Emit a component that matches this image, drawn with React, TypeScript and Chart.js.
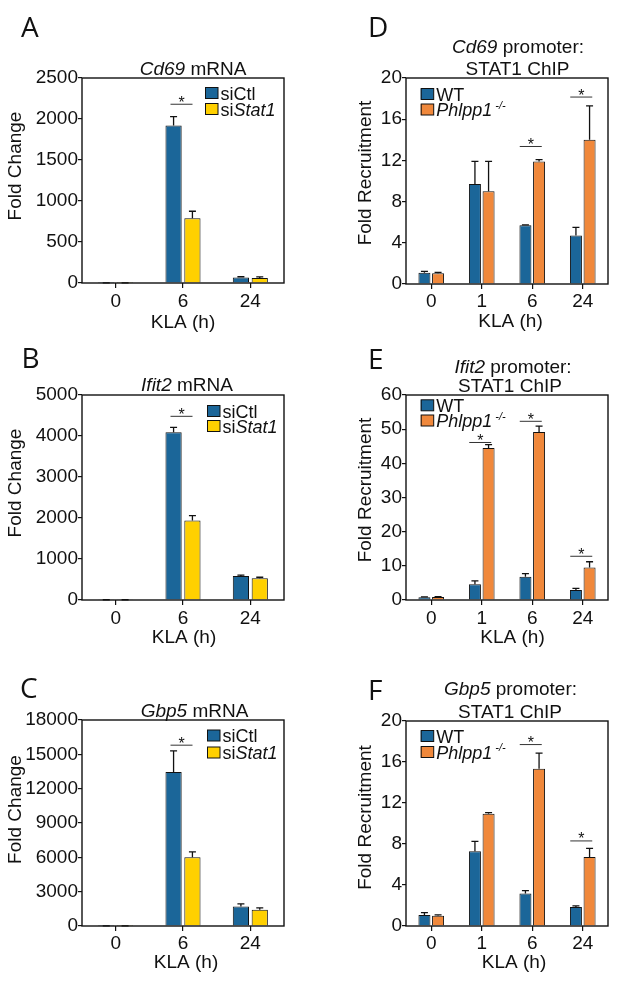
import React, { useEffect, useRef } from 'react';
import { Chart, registerables } from 'chart.js';

Chart.register(...registerables);

const FONT = '"Liberation Sans", Arial, Helvetica, sans-serif';
const LETTER_FONT = '"Open Sans", "Noto Sans", sans-serif';
const BLUE = '#1b6699';
const YELLOW = '#ffd000';
const ORANGE = '#f0883b';
const INK = '#111111';

// ---------- data ----------
const mrnaTimes = ['0', '6', '24'];
const chipTimes = ['0', '1', '6', '24'];

// A: Cd69 mRNA
const cd69MrnaSiCtl = [1, 1920, 68];
const cd69MrnaSiCtlErr = [1, 110, 8];
const cd69MrnaSiStat1 = [1, 790, 62];
const cd69MrnaSiStat1Err = [1, 85, 12];
const cd69MrnaSigIdx = [1];
const cd69MrnaSigY = [2180];

// B: Ifit2 mRNA
const ifit2MrnaSiCtl = [4, 4090, 585];
const ifit2MrnaSiCtlErr = [2, 120, 20];
const ifit2MrnaSiStat1 = [4, 1940, 530];
const ifit2MrnaSiStat1Err = [2, 120, 25];
const ifit2MrnaSigIdx = [1];
const ifit2MrnaSigY = [4480];

// C: Gbp5 mRNA
const gbp5MrnaSiCtl = [8, 13450, 1700];
const gbp5MrnaSiCtlErr = [5, 1850, 230];
const gbp5MrnaSiStat1 = [8, 6000, 1410];
const gbp5MrnaSiStat1Err = [5, 470, 170];
const gbp5MrnaSigIdx = [1];
const gbp5MrnaSigY = [15800];

// D: Cd69 promoter STAT1 ChIP
const cd69ChipWT = [1.1, 9.7, 5.7, 4.7];
const cd69ChipWTErr = [0.12, 2.2, 0.05, 0.8];
const cd69ChipKO = [1.05, 9.0, 11.9, 14.0];
const cd69ChipKOErr = [0.08, 2.9, 0.18, 3.3];
const cd69ChipSigIdx = [2, 3];
const cd69ChipSigY = [13.35, 18.15];

// E: Ifit2 promoter STAT1 ChIP
const ifit2ChipWT = [0.8, 4.6, 6.8, 2.9];
const ifit2ChipWTErr = [0.1, 1.0, 0.9, 0.5];
const ifit2ChipKO = [0.9, 44.5, 49.2, 9.5];
const ifit2ChipKOErr = [0.1, 1.0, 1.7, 1.7];
const ifit2ChipSigIdx = [1, 2, 3];
const ifit2ChipSigY = [46.1, 52.3, 12.8];

// F: Gbp5 promoter STAT1 ChIP
const gbp5ChipWT = [1.08, 7.3, 3.16, 1.86];
const gbp5ChipWTErr = [0.22, 0.95, 0.3, 0.1];
const gbp5ChipKO = [1.0, 10.96, 15.33, 6.72];
const gbp5ChipKOErr = [0.08, 0.1, 1.54, 0.85];
const gbp5ChipSigIdx = [2, 3];
const gbp5ChipSigY = [17.7, 8.3];

// ---------- text helpers ----------
type Part = { t: string; i?: boolean; sup?: boolean };

const siCtlLabel: Part[] = [{ t: 'siCtl' }];
const siStat1Label: Part[] = [{ t: 'si' }, { t: 'Stat1', i: true }];
const wtLabel: Part[] = [{ t: 'WT' }];
const koLabel: Part[] = [{ t: 'Phlpp1', i: true }, { t: ' -/-', i: true, sup: true }];

function fontFor(p: Part, size: number) {
  const s = p.sup ? Math.round(size * 0.6) : size;
  return `${p.i ? 'italic ' : ''}${s}px ${FONT}`;
}

function drawParts(ctx: CanvasRenderingContext2D, parts: Part[], x: number, y: number, size: number, align: 'left' | 'center') {
  let total = 0;
  for (const p of parts) {
    ctx.font = fontFor(p, size);
    total += ctx.measureText(p.t).width;
  }
  let cx = align === 'center' ? x - total / 2 : x;
  ctx.textAlign = 'left';
  ctx.textBaseline = 'alphabetic';
  for (const p of parts) {
    ctx.font = fontFor(p, size);
    ctx.fillText(p.t, cx, p.sup ? y - size * 0.4 : y);
    cx += ctx.measureText(p.t).width;
  }
}

// ---------- panel specs ----------
type Series = { name: string; legend: Part[]; values: number[]; err: number[]; color: string };
type Spec = {
  letter: string; letterX: number; letterY: number;
  canvas: { left: number; top: number; width: number; height: number };
  area: { left: number; right: number; top: number; bottom: number };
  labels: string[]; yMax: number; yStep: number;
  series: Series[];
  sigIdx: number[]; sigY: number[];
  titles: { parts: Part[]; cx: number; y: number }[];
  yTitle: { text: string; cx: number; cy: number };
  xTitle: { text: string; cx: number; cy: number };
  legend: { x: number; rows: number[] };
  tickPadX: number; catPct: number; barPct: number;
};

const LEFT_COL = { left: 0, width: 308 };
const RIGHT_COL = { left: 308, width: 309 };
const ROW1 = { top: 0, height: 335 };
const ROW2 = { top: 335, height: 320 };
const ROW3 = { top: 655, height: 328 };

const mrnaSeries = (ctl: number[], ctlErr: number[], st: number[], stErr: number[]): Series[] => [
  { name: 'siCtl', legend: siCtlLabel, values: ctl, err: ctlErr, color: BLUE },
  { name: 'siStat1', legend: siStat1Label, values: st, err: stErr, color: YELLOW },
];
const chipSeries = (wt: number[], wtErr: number[], ko: number[], koErr: number[]): Series[] => [
  { name: 'WT', legend: wtLabel, values: wt, err: wtErr, color: BLUE },
  { name: 'Phlpp1-/-', legend: koLabel, values: ko, err: koErr, color: ORANGE },
];

const specs: Spec[] = [
  {
    letter: 'A', letterX: 21, letterY: 37,
    canvas: { ...LEFT_COL, ...ROW1 },
    area: { left: 82, right: 284, top: 78, bottom: 283 },
    labels: mrnaTimes, yMax: 2500, yStep: 500,
    series: mrnaSeries(cd69MrnaSiCtl, cd69MrnaSiCtlErr, cd69MrnaSiStat1, cd69MrnaSiStat1Err),
    sigIdx: cd69MrnaSigIdx, sigY: cd69MrnaSigY,
    titles: [{ parts: [{ t: 'Cd69', i: true }, { t: ' mRNA' }], cx: 193, y: 75 }],
    yTitle: { text: 'Fold Change', cx: 16, cy: 166 },
    xTitle: { text: 'KLA (h)', cx: 183, cy: 323 },
    legend: { x: 205, rows: [93, 109] },
    tickPadX: 2, catPct: 0.56, barPct: 0.86,
  },
  {
    letter: 'B', letterX: 21.5, letterY: 368,
    canvas: { ...LEFT_COL, ...ROW2 },
    area: { left: 82, right: 284, top: 395, bottom: 600 },
    labels: mrnaTimes, yMax: 5000, yStep: 1000,
    series: mrnaSeries(ifit2MrnaSiCtl, ifit2MrnaSiCtlErr, ifit2MrnaSiStat1, ifit2MrnaSiStat1Err),
    sigIdx: ifit2MrnaSigIdx, sigY: ifit2MrnaSigY,
    titles: [{ parts: [{ t: 'Ifit2', i: true }, { t: ' mRNA' }], cx: 187, y: 391 }],
    yTitle: { text: 'Fold Change', cx: 16, cy: 483 },
    xTitle: { text: 'KLA (h)', cx: 184, cy: 638 },
    legend: { x: 207, rows: [411, 426] },
    tickPadX: 2, catPct: 0.56, barPct: 0.86,
  },
  {
    letter: 'C', letterX: 20, letterY: 698,
    canvas: { ...LEFT_COL, ...ROW3 },
    area: { left: 82, right: 284, top: 720, bottom: 926 },
    labels: mrnaTimes, yMax: 18000, yStep: 3000,
    series: mrnaSeries(gbp5MrnaSiCtl, gbp5MrnaSiCtlErr, gbp5MrnaSiStat1, gbp5MrnaSiStat1Err),
    sigIdx: gbp5MrnaSigIdx, sigY: gbp5MrnaSigY,
    titles: [{ parts: [{ t: 'Gbp5', i: true }, { t: ' mRNA' }], cx: 194.5, y: 717 }],
    yTitle: { text: 'Fold Change', cx: 15.5, cy: 809.5 },
    xTitle: { text: 'KLA (h)', cx: 186, cy: 963 },
    legend: { x: 207, rows: [735.5, 752.5] },
    tickPadX: 1, catPct: 0.56, barPct: 0.86,
  },
  {
    letter: 'D', letterX: 368, letterY: 37,
    canvas: { ...RIGHT_COL, ...ROW1 },
    area: { left: 406, right: 608, top: 78, bottom: 284 },
    labels: chipTimes, yMax: 20, yStep: 4,
    series: chipSeries(cd69ChipWT, cd69ChipWTErr, cd69ChipKO, cd69ChipKOErr),
    sigIdx: cd69ChipSigIdx, sigY: cd69ChipSigY,
    titles: [
      { parts: [{ t: 'Cd69', i: true }, { t: ' promoter:' }], cx: 518, y: 53 },
      { parts: [{ t: 'STAT1 ChIP' }], cx: 517.5, y: 75 },
    ],
    yTitle: { text: 'Fold Recruitment', cx: 365.5, cy: 173 },
    xTitle: { text: 'KLA (h)', cx: 510.5, cy: 322 },
    legend: { x: 420.7, rows: [94, 109.5] },
    tickPadX: 1, catPct: 0.54, barPct: 0.88,
  },
  {
    letter: 'E', letterX: 368, letterY: 369,
    canvas: { ...RIGHT_COL, ...ROW2 },
    area: { left: 406, right: 608, top: 395, bottom: 600 },
    labels: chipTimes, yMax: 60, yStep: 10,
    series: chipSeries(ifit2ChipWT, ifit2ChipWTErr, ifit2ChipKO, ifit2ChipKOErr),
    sigIdx: ifit2ChipSigIdx, sigY: ifit2ChipSigY,
    titles: [
      { parts: [{ t: 'Ifit2', i: true }, { t: ' promoter:' }], cx: 513, y: 373 },
      { parts: [{ t: 'STAT1 ChIP' }], cx: 510, y: 391.5 },
    ],
    yTitle: { text: 'Fold Recruitment', cx: 365.5, cy: 490 },
    xTitle: { text: 'KLA (h)', cx: 512.5, cy: 638 },
    legend: { x: 420.7, rows: [405.3, 420.5] },
    tickPadX: 2, catPct: 0.54, barPct: 0.88,
  },
  {
    letter: 'F', letterX: 368, letterY: 700,
    canvas: { ...RIGHT_COL, ...ROW3 },
    area: { left: 406, right: 608, top: 721, bottom: 926 },
    labels: chipTimes, yMax: 20, yStep: 4,
    series: chipSeries(gbp5ChipWT, gbp5ChipWTErr, gbp5ChipKO, gbp5ChipKOErr),
    sigIdx: gbp5ChipSigIdx, sigY: gbp5ChipSigY,
    titles: [
      { parts: [{ t: 'Gbp5', i: true }, { t: ' promoter:' }], cx: 510.5, y: 695 },
      { parts: [{ t: 'STAT1 ChIP' }], cx: 510, y: 718 },
    ],
    yTitle: { text: 'Fold Recruitment', cx: 365.5, cy: 817.5 },
    xTitle: { text: 'KLA (h)', cx: 514, cy: 963 },
    legend: { x: 420.7, rows: [736, 752] },
    tickPadX: 1, catPct: 0.54, barPct: 0.88,
  },
];

// ---------- decoration plugin ----------
function decorPlugin(spec: Spec) {
  const ox = spec.canvas.left;
  const oy = spec.canvas.top;
  return {
    id: 'decor' + spec.letter,
    afterDraw(chart: any) {
      const { ctx, chartArea: a, scales } = chart;
      const xs = scales.x;
      const ys = scales.y;
      ctx.save();
      ctx.strokeStyle = INK;
      ctx.fillStyle = INK;

      // error bars (upper only)
      ctx.lineWidth = 1.3;
      spec.series.forEach((s, di) => {
        const meta = chart.getDatasetMeta(di);
        meta.data.forEach((bar: any, i: number) => {
          const top = ys.getPixelForValue(s.values[i]);
          const et = ys.getPixelForValue(s.values[i] + s.err[i]);
          ctx.beginPath();
          ctx.moveTo(bar.x, top);
          ctx.lineTo(bar.x, et);
          ctx.moveTo(bar.x - 3.5, et);
          ctx.lineTo(bar.x + 3.5, et);
          ctx.stroke();
        });
      });

      // plot frame
      ctx.lineWidth = 1.4;
      ctx.strokeRect(a.left, a.top, a.right - a.left, a.bottom - a.top);

      // significance lines + asterisks
      ctx.lineWidth = 1;
      ctx.strokeStyle = '#333';
      spec.sigIdx.forEach((idx, k) => {
        const cx = xs.getPixelForValue(idx);
        const ly = ys.getPixelForValue(spec.sigY[k]);
        ctx.beginPath();
        ctx.moveTo(cx - 12.5, ly);
        ctx.lineTo(cx + 9.5, ly);
        ctx.stroke();
        ctx.font = `16px ${FONT}`;
        ctx.textAlign = 'center';
        ctx.textBaseline = 'alphabetic';
        ctx.fillText('*', cx - 1.5, ly + 3.5);
      });

      // legend
      ctx.strokeStyle = INK;
      ctx.lineWidth = 1;
      spec.series.forEach((s, di) => {
        const cy = spec.legend.rows[di] - oy;
        const bx = spec.legend.x - ox;
        ctx.fillStyle = s.color;
        ctx.fillRect(bx, cy - 5.5, 13, 11);
        ctx.strokeRect(bx + 0.5, cy - 5.5, 12.5, 11);
        ctx.fillStyle = INK;
        drawParts(ctx, s.legend, bx + 15.5, cy + 6.5, 18, 'left');
      });

      // panel titles
      spec.titles.forEach((t) => drawParts(ctx, t.parts, t.cx - ox, t.y - oy, 19, 'center'));

      // axis titles
      ctx.font = `19px ${FONT}`;
      ctx.textAlign = 'center';
      ctx.textBaseline = 'middle';
      ctx.fillText(spec.xTitle.text, spec.xTitle.cx - ox, spec.xTitle.cy - oy);
      ctx.save();
      ctx.translate(spec.yTitle.cx - ox, spec.yTitle.cy - oy);
      ctx.rotate(-Math.PI / 2);
      ctx.fillText(spec.yTitle.text, 0, 0);
      ctx.restore();

      // panel letter
      ctx.font = `28px ${LETTER_FONT}`;
      ctx.textAlign = 'left';
      ctx.textBaseline = 'alphabetic';
      ctx.fillText(spec.letter, spec.letterX - ox, spec.letterY - oy);

      ctx.restore();
    },
  };
}

function Panel({ spec }: { spec: Spec }) {
  const ref = useRef<HTMLCanvasElement>(null);
  useEffect(() => {
    const canvas = ref.current!;
    const { left, top, width, height } = spec.canvas;
    const a = spec.area;
    const tickFont = { size: 19, family: FONT };
    const chart = new Chart(canvas, {
      type: 'bar',
      data: {
        labels: spec.labels,
        datasets: spec.series.map((s) => ({
          label: s.name,
          data: s.values,
          backgroundColor: s.color,
          borderColor: INK,
          borderWidth: 1,
          borderSkipped: 'start',
          categoryPercentage: spec.catPct,
          barPercentage: spec.barPct,
        })),
      },
      options: {
        responsive: false,
        animation: false,
        devicePixelRatio: 1,
        events: [],
        layout: { padding: { left: 0, top: a.top - top, right: width - (a.right - left), bottom: 0 } },
        plugins: { legend: { display: false }, tooltip: { enabled: false }, title: { display: false } },
        scales: {
          x: {
            grid: { display: true, drawOnChartArea: false, drawTicks: true, tickLength: 5, color: INK, lineWidth: 1.2, offset: false },
            border: { display: false },
            ticks: { color: INK, font: tickFont, padding: spec.tickPadX, maxRotation: 0, autoSkip: false },
            afterFit: (s: any) => { s.height = height - (a.bottom - top); },
          },
          y: {
            min: 0,
            max: spec.yMax,
            grid: { display: true, drawOnChartArea: false, drawTicks: true, tickLength: 4, color: INK, lineWidth: 1.2 },
            border: { display: false },
            ticks: { stepSize: spec.yStep, color: INK, font: tickFont, padding: 0, callback: (v: any) => String(v) },
            afterFit: (s: any) => { s.width = a.left - left; },
          },
        },
      } as any,
      plugins: [decorPlugin(spec)],
    });
    return () => chart.destroy();
  }, [spec]);
  const { left, top, width, height } = spec.canvas;
  return (
    <canvas
      ref={ref}
      width={width}
      height={height}
      style={{ position: 'absolute', left, top, width, height, display: 'block' }}
    />
  );
}

export default function App() {
  useEffect(() => {
    document.body.style.margin = '0';
    document.body.style.background = '#ffffff';
  }, []);
  return (
    <div style={{ position: 'absolute', left: 0, top: 0, width: 617, height: 983, background: '#ffffff', overflow: 'hidden' }}>
      {specs.map((s) => (
        <Panel key={s.letter} spec={s} />
      ))}
    </div>
  );
}
